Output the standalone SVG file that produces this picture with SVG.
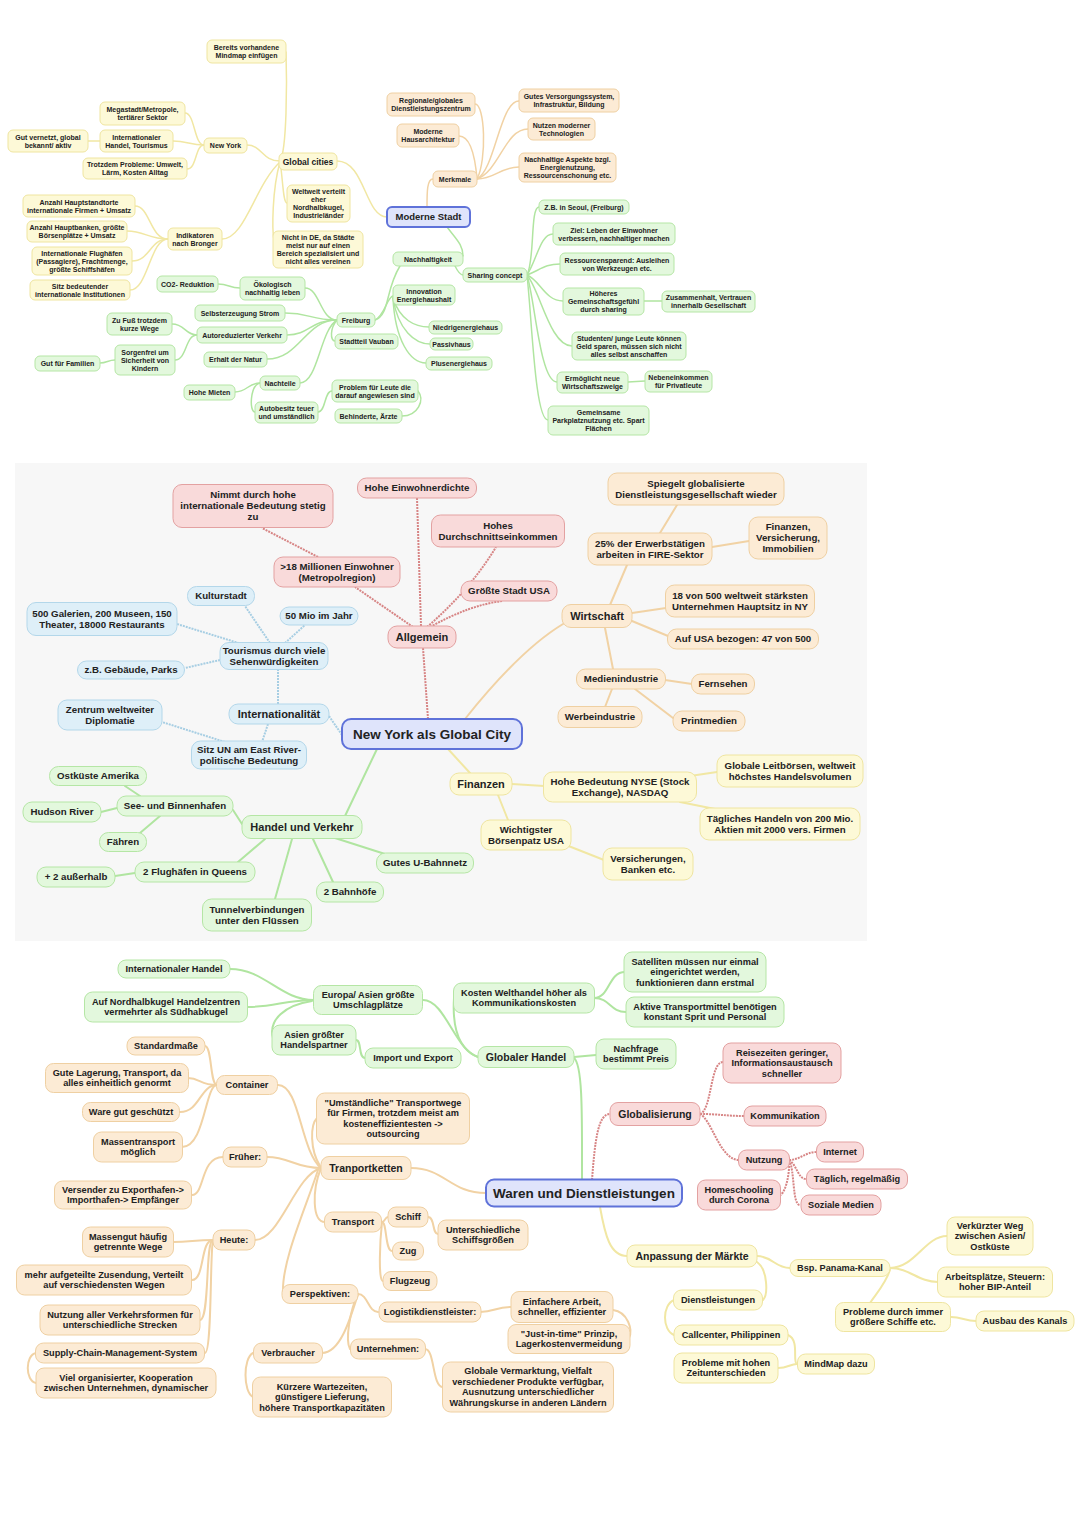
<svg xmlns="http://www.w3.org/2000/svg" width="1080" height="1527" viewBox="0 0 1080 1527">
<style>
text{font-family:"Liberation Sans",Arial,Helvetica,sans-serif;font-weight:bold;fill:#222;text-anchor:middle}
.s1 text{font-size:7px}
.s2 text{font-size:9.7px}
.s3 text{font-size:9.2px}
.s1 rect{rx:5px}
.s2 rect{rx:9px}
.s3 rect{rx:8px}
.y rect{fill:#fdf9d7;stroke:#efe5a0;stroke-width:1}
.o rect{fill:#fcebd5;stroke:#efd0a2;stroke-width:1}
.g rect{fill:#e3f8dd;stroke:#b5e6a5;stroke-width:1}
.r rect{fill:#f9dada;stroke:#e3a1a1;stroke-width:1}
.b rect{fill:#deeff8;stroke:#b3d7ea;stroke-width:1}
.c rect{fill:#dfe4fb;stroke:#5f72d9;stroke-width:2}
.k1 text{font-size:8.5px}
.k2 text{font-size:11px}
.k3 text{font-size:10.5px}
.km text{font-size:9.5px}
.kc text{font-size:13.5px}
path{fill:none;stroke-linecap:round}
.cy{stroke:#f1e7a3}
.co{stroke:#f1d2a4}
.cg{stroke:#b0e5a0}
.cr{stroke:#d78585;stroke-dasharray:2 1;stroke-linecap:butt}
.cb{stroke:#a7cee3;stroke-dasharray:2 1;stroke-linecap:butt}
.w1 path{stroke-width:1.5}
.w2 path{stroke-width:2}
</style>
<rect x="15" y="463" width="852" height="478" fill="#f7f7f7"/>

<g id="connectors">
<g class="w1">
<path class="cy" d="M337 161 C365 161 365 217 387 217"/>
<path class="cy" d="M280 161 C287 150 287 80 286 52"/>
<path class="cy" d="M280 161 C262 161 262 145 247 145"/>
<path class="cy" d="M280 161 C283 180 283 203 287 203"/>
<path class="cy" d="M280 162 C272 190 272 230 274 240"/>
<path class="cy" d="M280 162 C255 185 245 239 222 239"/>
<path class="cy" d="M204 145 C194 145 195 113 185 113"/>
<path class="cy" d="M204 145 C190 145 187 141 173 141"/>
<path class="cy" d="M204 145 C195 145 197 169 187 169"/>
<path class="cy" d="M100 141 L88 141"/>
<path class="cy" d="M168 239 C150 239 150 206 135 206"/>
<path class="cy" d="M168 239 C148 239 145 231 127 231"/>
<path class="cy" d="M168 239 C150 239 150 261 132 261"/>
<path class="cy" d="M168 239 C150 239 148 290 130 290"/>
<path class="co" d="M427 207 C427 192 427 179 433 179"/>
<path class="co" d="M477 179 C487 160 485 104 475 104"/>
<path class="co" d="M477 179 C475 155 470 136 459 136"/>
<path class="co" d="M477 179 C495 170 500 101 519 101"/>
<path class="co" d="M477 179 C500 170 505 129 528 129"/>
<path class="co" d="M477 179 C495 179 500 167 519 167"/>
<path class="cg" d="M447 227 C457 240 463 245 463 256"/>
<path class="cg" d="M455 266 C458 272 460 275 463 275"/>
<path class="cg" d="M400 266 C385 290 390 315 375 320"/>
<path class="cg" d="M375 320 C385 315 387 297 393 296"/>
<path class="cg" d="M393 298 C400 320 415 327 429 327"/>
<path class="cg" d="M393 298 C398 330 415 344 430 344"/>
<path class="cg" d="M393 298 C395 340 410 363 426 363"/>
<path class="cg" d="M337 320 C320 320 320 288 305 288"/>
<path class="cg" d="M337 320 C310 320 310 313 285 313"/>
<path class="cg" d="M337 320 C310 320 310 335 287 335"/>
<path class="cg" d="M337 320 C305 320 300 359 267 359"/>
<path class="cg" d="M337 320 C320 330 318 383 300 383"/>
<path class="cg" d="M337 320 C330 328 330 341 335 341"/>
<path class="cg" d="M240 288 C229 288 229 284 218 284"/>
<path class="cg" d="M197 335 C185 335 185 324 172 324"/>
<path class="cg" d="M197 335 C185 335 187 360 175 360"/>
<path class="cg" d="M115 360 C108 360 107 363 100 363"/>
<path class="cg" d="M260 383 C248 383 247 392 235 392"/>
<path class="cg" d="M260 383 C250 385 249 412 255 412"/>
<path class="cg" d="M318 412 C326 412 324 391 332 391"/>
<path class="cg" d="M418 391 C425 400 418 416 402 416"/>
<path class="cg" d="M527 275 C535 260 530 207 539 207"/>
<path class="cg" d="M527 275 C537 260 540 234 553 234"/>
<path class="cg" d="M527 275 C540 270 545 264 560 264"/>
<path class="cg" d="M527 275 C540 280 545 301 563 301"/>
<path class="cg" d="M527 275 C540 290 550 346 572 346"/>
<path class="cg" d="M527 275 C535 300 540 382 557 382"/>
<path class="cg" d="M527 275 C532 320 535 420 548 420"/>
<path class="cg" d="M644 301 L662 301"/>
<path class="cg" d="M628 382 L645 381"/>
</g>
<g class="w2">
<path class="cr" d="M428 719 L423 648"/>
<path class="cr" d="M421 626 L417 498"/>
<path class="cr" d="M413 627 L355 587"/>
<path class="cr" d="M318 557 L262 528"/>
<path class="cr" d="M427 627 Q470 590 496 547"/>
<path class="cr" d="M430 627 Q470 605 502 601"/>
<path class="cb" d="M342 735 L329 716"/>
<path class="cb" d="M278 704 L278 670"/>
<path class="cb" d="M270 643 L245 606"/>
<path class="cb" d="M245 645 L177 624"/>
<path class="cb" d="M285 643 L305 625"/>
<path class="cb" d="M220 660 L185 668"/>
<path class="cb" d="M268 724 L262 742"/>
<path class="cb" d="M225 742 L162 722"/>
<path class="co" d="M465 719 Q520 650 563 624"/>
<path class="co" d="M610 605 L627 565"/>
<path class="co" d="M660 533 L677 505"/>
<path class="co" d="M712 547 L749 541"/>
<path class="co" d="M632 613 L666 608"/>
<path class="co" d="M632 621 L668 636"/>
<path class="co" d="M605 628 L613 669"/>
<path class="co" d="M665 680 L692 684"/>
<path class="co" d="M612 689 L605 707"/>
<path class="co" d="M635 689 L673 718"/>
<path class="cy" d="M448 749 L470 773"/>
<path class="cy" d="M512 784 L544 786"/>
<path class="cy" d="M690 776 L717 772"/>
<path class="cy" d="M680 802 L720 810"/>
<path class="cy" d="M498 795 L508 820"/>
<path class="cy" d="M566 845 L604 860"/>
<path class="cg" d="M377 749 L345 816"/>
<path class="cg" d="M242 824 L233 810"/>
<path class="cg" d="M140 796 L125 786"/>
<path class="cg" d="M117 808 L101 812"/>
<path class="cg" d="M160 816 L140 833"/>
<path class="cg" d="M265 839 L238 862"/>
<path class="cg" d="M135 873 L115 876"/>
<path class="cg" d="M292 839 L275 899"/>
<path class="cg" d="M313 839 L333 882"/>
<path class="cg" d="M335 838 L385 854"/>

<path class="cg" d="M582 1179 C582 1120 583 1065 574 1058"/>
<path class="cg" d="M478 1057 C460 1050 452 1030 454 998"/>
<path class="cg" d="M478 1057 C455 1050 445 1000 423 1000"/>
<path class="cg" d="M574 1057 L596 1055"/>
<path class="cg" d="M594 998 C610 998 608 972 625 972"/>
<path class="cg" d="M594 998 C610 998 610 1012 626 1012"/>
<path class="cg" d="M314 1000 C280 1000 265 969 230 969"/>
<path class="cg" d="M314 1000 C285 1000 275 1007 248 1007"/>
<path class="cg" d="M312 1001 C285 1005 268 1020 273 1038"/>
<path class="cg" d="M356 1040 C362 1040 358 1058 365 1058"/>
<path class="co" d="M486 1193 C450 1193 445 1168 411 1168"/>
<path class="co" d="M321 1168 C300 1150 300 1085 278 1085"/>
<path class="co" d="M320 1166 C310 1150 310 1125 317 1118"/>
<path class="co" d="M321 1168 C295 1168 290 1157 267 1157"/>
<path class="co" d="M321 1168 C295 1175 280 1240 255 1240"/>
<path class="co" d="M321 1168 C312 1190 312 1222 325 1222"/>
<path class="co" d="M318 1170 C305 1210 282 1260 283 1292"/>
<path class="co" d="M217 1085 C210 1085 212 1046 205 1046"/>
<path class="co" d="M217 1085 C200 1085 200 1078 188 1078"/>
<path class="co" d="M217 1085 C200 1085 200 1112 180 1112"/>
<path class="co" d="M217 1085 C205 1085 205 1147 182 1147"/>
<path class="co" d="M223 1157 C200 1157 205 1195 192 1195"/>
<path class="co" d="M213 1240 C195 1240 190 1242 173 1242"/>
<path class="co" d="M213 1240 C200 1240 205 1280 192 1280"/>
<path class="co" d="M213 1240 C205 1240 210 1320 200 1320"/>
<path class="co" d="M213 1240 C210 1250 212 1353 205 1353"/>
<path class="co" d="M36 1353 C25 1355 25 1381 36 1383"/>
<path class="co" d="M382 1222 C385 1222 385 1217 388 1217"/>
<path class="co" d="M382 1222 C387 1222 385 1251 392 1251"/>
<path class="co" d="M382 1222 C380 1240 378 1281 383 1281"/>
<path class="co" d="M428 1217 C435 1217 432 1234 438 1234"/>
<path class="co" d="M358 1294 C368 1294 368 1312 378 1312"/>
<path class="co" d="M358 1294 C350 1310 345 1340 350 1349"/>
<path class="co" d="M358 1294 C350 1320 340 1353 322 1353"/>
<path class="co" d="M253 1353 C243 1358 243 1392 253 1397"/>
<path class="co" d="M425 1349 C435 1349 432 1387 443 1387"/>
<path class="co" d="M480 1312 C495 1312 495 1307 511 1307"/>
<path class="co" d="M613 1310 C628 1312 633 1330 629 1338"/>
<path class="cr" d="M592 1180 C595 1140 598 1114 610 1114"/>
<path class="cr" d="M700 1114 C712 1110 710 1062 723 1062"/>
<path class="cr" d="M700 1114 C720 1114 725 1116 744 1116"/>
<path class="cr" d="M700 1114 C712 1120 720 1160 739 1160"/>
<path class="cr" d="M789 1160 C800 1160 805 1152 817 1152"/>
<path class="cr" d="M789 1160 C797 1165 798 1179 806 1179"/>
<path class="cr" d="M789 1160 C795 1170 792 1205 800 1205"/>
<path class="cr" d="M789 1160 C790 1175 785 1196 778 1196"/>
<path class="cy" d="M600 1207 C605 1235 610 1256 627 1256"/>
<path class="cy" d="M757 1256 C772 1256 775 1268 790 1268"/>
<path class="cy" d="M757 1262 C768 1270 768 1295 763 1300"/>
<path class="cy" d="M674 1300 C662 1305 662 1330 674 1335"/>
<path class="cy" d="M788 1335 C800 1340 792 1362 797 1364"/>
<path class="cy" d="M778 1368 C788 1368 790 1364 797 1364"/>
<path class="cy" d="M890 1268 C915 1268 925 1236 947 1236"/>
<path class="cy" d="M890 1268 C910 1268 918 1282 938 1282"/>
<path class="cy" d="M890 1270 C885 1285 875 1295 870 1303"/>
<path class="cy" d="M951 1317 C962 1317 965 1321 976 1321"/>
</g>
</g>

<!-- Section 1 -->
<g id="n_bereits" class="s1 y"><rect x="207" y="40" width="79" height="23"/><text y="50"><tspan x="246.5">Bereits vorhandene</tspan><tspan x="246.5" dy="8">Mindmap einfügen</tspan></text></g>
<g id="n_megastadt" class="s1 y"><rect x="100" y="102" width="85" height="23"/><text y="112"><tspan x="142.5">Megastadt/Metropole,</tspan><tspan x="142.5" dy="8">tertiärer Sektor</tspan></text></g>
<g id="n_inthandel" class="s1 y"><rect x="100" y="130" width="73" height="22"/><text y="139.5"><tspan x="136.5">Internationaler</tspan><tspan x="136.5" dy="8">Handel, Tourismus</tspan></text></g>
<g id="n_gutvernetzt" class="s1 y"><rect x="8" y="130" width="80" height="22"/><text y="139.5"><tspan x="48">Gut vernetzt, global</tspan><tspan x="48" dy="8">bekannt/ aktiv</tspan></text></g>
<g id="n_trotzdem" class="s1 y"><rect x="83" y="158" width="104" height="21"/><text y="167"><tspan x="135">Trotzdem Probleme: Umwelt,</tspan><tspan x="135" dy="8">Lärm, Kosten Alltag</tspan></text></g>
<g id="n_newyork" class="s1 y"><rect x="204" y="138" width="43" height="15"/><text x="225.5" y="148">New York</text></g>
<g id="n_globalcities" class="s1 y k1"><rect x="279" y="153" width="58" height="17"/><text x="308" y="164.5">Global cities</text></g>
<g id="n_weltweit" class="s1 y"><rect x="287" y="185" width="63" height="37"/><text y="194"><tspan x="318.5">Weltweit verteilt</tspan><tspan x="318.5" dy="8">eher</tspan><tspan x="318.5" dy="8">Nordhalbkugel,</tspan><tspan x="318.5" dy="8">Industrieländer</tspan></text></g>
<g id="n_nichtde" class="s1 y"><rect x="273" y="231" width="90" height="37"/><text y="240"><tspan x="318">Nicht in DE, da Städte</tspan><tspan x="318" dy="8">meist nur auf einen</tspan><tspan x="318" dy="8">Bereich spezialisiert und</tspan><tspan x="318" dy="8">nicht alles vereinen</tspan></text></g>
<g id="n_indikatoren" class="s1 y"><rect x="168" y="228" width="54" height="22"/><text y="237.5"><tspan x="195">Indikatoren</tspan><tspan x="195" dy="8">nach Bronger</tspan></text></g>
<g id="n_anzahl1" class="s1 y"><rect x="23" y="195" width="112" height="22"/><text y="204.5"><tspan x="79">Anzahl Hauptstandtorte</tspan><tspan x="79" dy="8">internationale Firmen + Umsatz</tspan></text></g>
<g id="n_anzahl2" class="s1 y"><rect x="27" y="221" width="100" height="21"/><text y="230"><tspan x="77">Anzahl Hauptbanken, größte</tspan><tspan x="77" dy="8">Börsenplätze + Umsatz</tspan></text></g>
<g id="n_flughaefen" class="s1 y"><rect x="32" y="247" width="100" height="28"/><text y="255.5"><tspan x="82">Internationale Flughäfen</tspan><tspan x="82" dy="8">(Passagiere), Frachtmenge,</tspan><tspan x="82" dy="8">größte Schiffshäfen</tspan></text></g>
<g id="n_sitz" class="s1 y"><rect x="30" y="280" width="100" height="20"/><text y="288.5"><tspan x="80">Sitz bedeutender</tspan><tspan x="80" dy="8">internationale Institutionen</tspan></text></g>
<g id="n_co2" class="s1 g"><rect x="157" y="276" width="61" height="16"/><text x="187.5" y="286.5">CO2- Reduktion</text></g>
<g id="n_oekologisch" class="s1 g"><rect x="240" y="277" width="65" height="23"/><text y="287"><tspan x="272.5">Ökologisch</tspan><tspan x="272.5" dy="8">nachhaltig leben</tspan></text></g>
<g id="n_selbst" class="s1 g"><rect x="195" y="305" width="90" height="16"/><text x="240" y="315.5">Selbsterzeugung Strom</text></g>
<g id="n_zufuss" class="s1 g"><rect x="107" y="313" width="65" height="22"/><text y="322.5"><tspan x="139.5">Zu Fuß trotzdem</tspan><tspan x="139.5" dy="8">kurze Wege</tspan></text></g>
<g id="n_auto" class="s1 g"><rect x="197" y="327" width="90" height="16"/><text x="242" y="337.5">Autoreduzierter Verkehr</text></g>
<g id="n_freiburg" class="s1 g"><rect x="337" y="313" width="38" height="14"/><text x="356" y="322.5">Freiburg</text></g>
<g id="n_vauban" class="s1 g"><rect x="335" y="334" width="63" height="15"/><text x="366.5" y="344">Stadtteil Vauban</text></g>
<g id="n_sorgenfrei" class="s1 g"><rect x="115" y="345" width="60" height="30"/><text y="354.5"><tspan x="145">Sorgenfrei um</tspan><tspan x="145" dy="8">Sicherheit von</tspan><tspan x="145" dy="8">Kindern</tspan></text></g>
<g id="n_familien" class="s1 g"><rect x="35" y="356" width="65" height="15"/><text x="67.5" y="366">Gut für Familien</text></g>
<g id="n_natur" class="s1 g"><rect x="204" y="352" width="63" height="15"/><text x="235.5" y="362">Erhalt der Natur</text></g>
<g id="n_nachteile" class="s1 g"><rect x="260" y="376" width="40" height="14"/><text x="280" y="385.5">Nachteile</text></g>
<g id="n_mieten" class="s1 g"><rect x="184" y="385" width="51" height="15"/><text x="209.5" y="395">Hohe Mieten</text></g>
<g id="n_autobesitz" class="s1 g"><rect x="255" y="402" width="63" height="21"/><text y="411"><tspan x="286.5">Autobesitz teuer</tspan><tspan x="286.5" dy="8">und umständlich</tspan></text></g>
<g id="n_problem" class="s1 g"><rect x="332" y="380" width="86" height="22"/><text y="389.5"><tspan x="375">Problem für Leute die</tspan><tspan x="375" dy="8">darauf angewiesen sind</tspan></text></g>
<g id="n_behinderte" class="s1 g"><rect x="335" y="409" width="67" height="14"/><text x="368.5" y="418.5">Behinderte, Ärzte</text></g>
<g id="n_innovation" class="s1 g"><rect x="393" y="285" width="62" height="20"/><text y="293.5"><tspan x="424">Innovation</tspan><tspan x="424" dy="8">Energiehaushalt</tspan></text></g>
<g id="n_niedrig" class="s1 g"><rect x="429" y="321" width="73" height="13"/><text x="465.5" y="330">Niedrigenergiehaus</text></g>
<g id="n_passiv" class="s1 g"><rect x="430" y="338" width="43" height="12"/><text x="451.5" y="346.5">Passivhaus</text></g>
<g id="n_plus" class="s1 g"><rect x="426" y="357" width="66" height="13"/><text x="459" y="366">Plusenergiehaus</text></g>
<g id="n_nachhaltigkeit" class="s1 g"><rect x="393" y="252" width="70" height="14"/><text x="428" y="261.5">Nachhaltigkeit</text></g>
<g id="n_sharing" class="s1 g"><rect x="463" y="268" width="64" height="14"/><text x="495" y="277.5">Sharing concept</text></g>
<g id="n_seoul" class="s1 g"><rect x="539" y="200" width="90" height="14"/><text x="584" y="209.5">Z.B. in Seoul, (Freiburg)</text></g>
<g id="n_ziel" class="s1 g"><rect x="553" y="223" width="122" height="22"/><text y="232.5"><tspan x="614">Ziel: Leben der Einwohner</tspan><tspan x="614" dy="8">verbessern, nachhaltiger machen</tspan></text></g>
<g id="n_ressourcen" class="s1 g"><rect x="560" y="253" width="114" height="22"/><text y="262.5"><tspan x="617">Ressourcensparend: Ausleihen</tspan><tspan x="617" dy="8">von Werkzeugen etc.</tspan></text></g>
<g id="n_hoeheres" class="s1 g"><rect x="563" y="288" width="81" height="27"/><text y="296"><tspan x="603.5">Höheres</tspan><tspan x="603.5" dy="8">Gemeinschaftsgefühl</tspan><tspan x="603.5" dy="8">durch sharing</tspan></text></g>
<g id="n_zusammen" class="s1 g"><rect x="662" y="291" width="93" height="21"/><text y="300"><tspan x="708.5">Zusammenhalt, Vertrauen</tspan><tspan x="708.5" dy="8">innerhalb Gesellschaft</tspan></text></g>
<g id="n_studenten" class="s1 g"><rect x="572" y="332" width="114" height="28"/><text y="340.5"><tspan x="629">Studenten/ junge Leute können</tspan><tspan x="629" dy="8">Geld sparen, müssen sich nicht</tspan><tspan x="629" dy="8">alles selbst anschaffen</tspan></text></g>
<g id="n_ermoeglicht" class="s1 g"><rect x="557" y="372" width="71" height="21"/><text y="381"><tspan x="592.5">Ermöglicht neue</tspan><tspan x="592.5" dy="8">Wirtschaftszweige</tspan></text></g>
<g id="n_neben" class="s1 g"><rect x="645" y="371" width="67" height="21"/><text y="380"><tspan x="678.5">Nebeneinkommen</tspan><tspan x="678.5" dy="8">für Privatleute</tspan></text></g>
<g id="n_gemeinsam" class="s1 g"><rect x="548" y="406" width="101" height="29"/><text y="415"><tspan x="598.5">Gemeinsame</tspan><tspan x="598.5" dy="8">Parkplatznutzung etc. Spart</tspan><tspan x="598.5" dy="8">Flächen</tspan></text></g>
<g id="n_regionale" class="s1 o"><rect x="387" y="93" width="88" height="23"/><text y="103"><tspan x="431">Regionale/globales</tspan><tspan x="431" dy="8">Dienstleistungszentrum</tspan></text></g>
<g id="n_hausarch" class="s1 o"><rect x="397" y="124" width="62" height="23"/><text y="134"><tspan x="428">Moderne</tspan><tspan x="428" dy="8">Hausarchitektur</tspan></text></g>
<g id="n_gutes" class="s1 o"><rect x="519" y="89" width="100" height="23"/><text y="99"><tspan x="569">Gutes Versorgungssystem,</tspan><tspan x="569" dy="8">Infrastruktur, Bildung</tspan></text></g>
<g id="n_nutzen" class="s1 o"><rect x="528" y="118" width="67" height="22"/><text y="127.5"><tspan x="561.5">Nutzen moderner</tspan><tspan x="561.5" dy="8">Technologien</tspan></text></g>
<g id="n_nachhaltigasp" class="s1 o"><rect x="519" y="153" width="97" height="29"/><text y="162"><tspan x="567.5">Nachhaltige Aspekte bzgl.</tspan><tspan x="567.5" dy="8">Energienutzung,</tspan><tspan x="567.5" dy="8">Ressourcenschonung etc.</tspan></text></g>
<g id="n_merkmale" class="s1 o"><rect x="433" y="171" width="44" height="16"/><text x="455" y="181.5">Merkmale</text></g>
<g id="n_modernestadt" class="s1 c km"><rect x="387" y="207" width="83" height="20"/><text x="428.5" y="220.3">Moderne Stadt</text></g>

<!-- Section 2 -->
<g id="n_hohe_ew" class="s2 r"><rect x="357.5" y="478" width="119" height="20"/><text x="417" y="491.4">Hohe Einwohnerdichte</text></g>
<g id="n_nimmt" class="s2 r"><rect x="173" y="484.5" width="160" height="43"/><text y="498.4"><tspan x="253">Nimmt durch hohe</tspan><tspan x="253" dy="11">internationale Bedeutung stetig</tspan><tspan x="253" dy="11">zu</tspan></text></g>
<g id="n_hohes" class="s2 r"><rect x="431.5" y="515" width="133" height="32"/><text y="528.9"><tspan x="498">Hohes</tspan><tspan x="498" dy="11">Durchschnittseinkommen</tspan></text></g>
<g id="n_18mio" class="s2 r"><rect x="274" y="557" width="126" height="30"/><text y="569.9"><tspan x="337">&gt;18 Millionen Einwohner</tspan><tspan x="337" dy="11">(Metropolregion)</tspan></text></g>
<g id="n_groesste" class="s2 r"><rect x="461" y="581" width="96" height="20"/><text x="509" y="594.4">Größte Stadt USA</text></g>
<g id="n_allgemein" class="s2 r k2"><rect x="388" y="626" width="68" height="22"/><text x="422" y="640.85">Allgemein</text></g>
<g id="n_kultur" class="s2 b"><rect x="187.5" y="586.5" width="67" height="19"/><text x="221" y="599.4">Kulturstadt</text></g>
<g id="n_500" class="s2 b"><rect x="27" y="602.5" width="150" height="33"/><text y="616.9"><tspan x="102">500 Galerien, 200 Museen, 150</tspan><tspan x="102" dy="11">Theater, 18000 Restaurants</tspan></text></g>
<g id="n_50mio" class="s2 b"><rect x="280" y="607" width="78" height="18"/><text x="319" y="619.4">50 Mio im Jahr</text></g>
<g id="n_tourismus" class="s2 b"><rect x="220" y="642.5" width="108" height="27"/><text y="653.9"><tspan x="274">Tourismus durch viele</tspan><tspan x="274" dy="11">Sehenwürdigkeiten</tspan></text></g>
<g id="n_zb" class="s2 b"><rect x="77.5" y="661" width="107" height="18"/><text x="131" y="673.4">z.B. Gebäude, Parks</text></g>
<g id="n_internationalitaet" class="s2 b k2"><rect x="229" y="704" width="100" height="20"/><text x="279" y="717.85">Internationalität</text></g>
<g id="n_zentrum" class="s2 b"><rect x="58" y="700" width="104" height="30"/><text y="712.9"><tspan x="110">Zentrum weltweiter</tspan><tspan x="110" dy="11">Diplomatie</tspan></text></g>
<g id="n_sitzun" class="s2 b"><rect x="191.5" y="741" width="115" height="28"/><text y="752.9"><tspan x="249">Sitz UN am East River-</tspan><tspan x="249" dy="11">politische Bedeutung</tspan></text></g>
<g id="n_nyc" class="s2 c kc"><rect x="342" y="719" width="180" height="30"/><text x="432" y="738.7">New York als Global City</text></g>
<g id="n_spiegelt" class="s2 o"><rect x="608" y="473" width="176" height="32"/><text y="486.9"><tspan x="696">Spiegelt globalisierte</tspan><tspan x="696" dy="11">Dienstleistungsgesellschaft wieder</tspan></text></g>
<g id="n_25" class="s2 o"><rect x="588" y="533" width="124" height="32"/><text y="546.9"><tspan x="650">25% der Erwerbstätigen</tspan><tspan x="650" dy="11">arbeiten in FIRE-Sektor</tspan></text></g>
<g id="n_finvers" class="s2 o"><rect x="749" y="517" width="78" height="42"/><text y="530.4"><tspan x="788">Finanzen,</tspan><tspan x="788" dy="11">Versicherung,</tspan><tspan x="788" dy="11">Immobilien</tspan></text></g>
<g id="n_wirtschaft" class="s2 o k2"><rect x="562" y="604.5" width="70" height="23"/><text x="597" y="619.85">Wirtschaft</text></g>
<g id="n_18von" class="s2 o"><rect x="665.5" y="585" width="149" height="32"/><text y="598.9"><tspan x="740">18 von 500 weltweit stärksten</tspan><tspan x="740" dy="11">Unternehmen Hauptsitz in NY</tspan></text></g>
<g id="n_aufusa" class="s2 o"><rect x="667.5" y="629" width="151" height="20"/><text x="743" y="642.4">Auf USA bezogen: 47 von 500</text></g>
<g id="n_medien" class="s2 o"><rect x="576.5" y="669" width="89" height="20"/><text x="621" y="682.4">Medienindustrie</text></g>
<g id="n_fernsehen" class="s2 o"><rect x="691.5" y="674" width="63" height="20"/><text x="723" y="687.4">Fernsehen</text></g>
<g id="n_werbe" class="s2 o"><rect x="558" y="706.5" width="84" height="21"/><text x="600" y="720.4">Werbeindustrie</text></g>
<g id="n_print" class="s2 o"><rect x="673" y="711" width="72" height="20"/><text x="709" y="724.4">Printmedien</text></g>
<g id="n_finanzen" class="s2 y k2"><rect x="450" y="773" width="62" height="22"/><text x="481" y="787.85">Finanzen</text></g>
<g id="n_nyse" class="s2 y"><rect x="543.5" y="772" width="153" height="30"/><text y="784.9"><tspan x="620">Hohe Bedeutung NYSE (Stock</tspan><tspan x="620" dy="11">Exchange), NASDAQ</tspan></text></g>
<g id="n_leitboersen" class="s2 y"><rect x="717" y="755" width="146" height="32"/><text y="768.9"><tspan x="790">Globale Leitbörsen, weltweit</tspan><tspan x="790" dy="11">höchstes Handelsvolumen</tspan></text></g>
<g id="n_taeglich" class="s2 y"><rect x="700" y="808" width="160" height="32"/><text y="821.9"><tspan x="780">Tägliches Handeln von 200 Mio.</tspan><tspan x="780" dy="11">Aktien mit 2000 vers. Firmen</tspan></text></g>
<g id="n_wichtigster" class="s2 y"><rect x="481" y="820" width="90" height="30"/><text y="832.9"><tspan x="526">Wichtigster</tspan><tspan x="526" dy="11">Börsenpatz USA</tspan></text></g>
<g id="n_versicherungen" class="s2 y"><rect x="603" y="848" width="90" height="32"/><text y="861.9"><tspan x="648">Versicherungen,</tspan><tspan x="648" dy="11">Banken etc.</tspan></text></g>
<g id="n_ostkueste" class="s2 g"><rect x="49.5" y="766.5" width="97" height="19"/><text x="98" y="779.4">Ostküste Amerika</text></g>
<g id="n_see" class="s2 g"><rect x="117" y="796" width="116" height="20"/><text x="175" y="809.4">See- und Binnenhafen</text></g>
<g id="n_hudson" class="s2 g"><rect x="23" y="802" width="78" height="20"/><text x="62" y="815.4">Hudson River</text></g>
<g id="n_faehren" class="s2 g"><rect x="99.5" y="832.5" width="47" height="19"/><text x="123" y="845.4">Fähren</text></g>
<g id="n_handel" class="s2 g k2"><rect x="242" y="815.5" width="120" height="23"/><text x="302" y="830.85">Handel und Verkehr</text></g>
<g id="n_ubahn" class="s2 g"><rect x="376.5" y="853" width="97" height="20"/><text x="425" y="866.4">Gutes U-Bahnnetz</text></g>
<g id="n_flughaefen2" class="s2 g"><rect x="135" y="862" width="120" height="20"/><text x="195" y="875.4">2 Flughäfen in Queens</text></g>
<g id="n_ausserhalb" class="s2 g"><rect x="37" y="867" width="78" height="20"/><text x="76" y="880.4">+ 2 außerhalb</text></g>
<g id="n_bahnhoefe" class="s2 g"><rect x="316.5" y="882" width="67" height="20"/><text x="350" y="895.4">2 Bahnhöfe</text></g>
<g id="n_tunnel" class="s2 g"><rect x="202.5" y="899" width="109" height="32"/><text y="912.9"><tspan x="257">Tunnelverbindungen</tspan><tspan x="257" dy="11">unter den Flüssen</tspan></text></g>

<!-- Section 3 -->
<g id="n_inthandel3" class="s3 g"><rect x="118" y="960" width="112" height="18"/><text x="174" y="972.2">Internationaler Handel</text></g>
<g id="n_nordhalb" class="s3 g"><rect x="84.5" y="992" width="163" height="30"/><text y="1004.95"><tspan x="166">Auf Nordhalbkugel Handelzentren</tspan><tspan x="166" dy="10.5">vermehrter als Südhabkugel</tspan></text></g>
<g id="n_europa" class="s3 g"><rect x="313.5" y="985.5" width="109" height="29"/><text y="997.95"><tspan x="368">Europa/ Asien größte</tspan><tspan x="368" dy="10.5">Umschlagplätze</tspan></text></g>
<g id="n_asien" class="s3 g"><rect x="272" y="1025" width="84" height="30"/><text y="1037.95"><tspan x="314">Asien größter</tspan><tspan x="314" dy="10.5">Handelspartner</tspan></text></g>
<g id="n_importexport" class="s3 g"><rect x="365" y="1048" width="96" height="20"/><text x="413" y="1061.2">Import und Export</text></g>
<g id="n_kosten" class="s3 g"><rect x="453.5" y="983" width="141" height="30"/><text y="995.95"><tspan x="524">Kosten Welthandel höher als</tspan><tspan x="524" dy="10.5">Kommunikationskosten</tspan></text></g>
<g id="n_satelliten" class="s3 g"><rect x="624" y="952" width="142" height="40"/><text y="964.7"><tspan x="695">Satelliten müssen nur einmal</tspan><tspan x="695" dy="10.5">eingerichtet werden,</tspan><tspan x="695" dy="10.5">funktionieren dann erstmal</tspan></text></g>
<g id="n_aktive" class="s3 g"><rect x="626" y="997" width="158" height="30"/><text y="1009.95"><tspan x="705">Aktive Transportmittel benötigen</tspan><tspan x="705" dy="10.5">konstant Sprit und Personal</tspan></text></g>
<g id="n_globhandel" class="s3 g k3"><rect x="478" y="1046.5" width="96" height="21"/><text x="526" y="1060.7">Globaler Handel</text></g>
<g id="n_nachfrage" class="s3 g"><rect x="596" y="1039" width="80" height="30"/><text y="1051.95"><tspan x="636">Nachfrage</tspan><tspan x="636" dy="10.5">bestimmt Preis</tspan></text></g>
<g id="n_reisezeiten" class="s3 r"><rect x="723" y="1043" width="118" height="40"/><text y="1055.7"><tspan x="782">Reisezeiten geringer,</tspan><tspan x="782" dy="10.5">Informationsaustausch</tspan><tspan x="782" dy="10.5">schneller</tspan></text></g>
<g id="n_globalisierung" class="s3 r k3"><rect x="610" y="1102.5" width="90" height="23"/><text x="655" y="1117.7">Globalisierung</text></g>
<g id="n_kommunikation" class="s3 r"><rect x="744" y="1106" width="82" height="20"/><text x="785" y="1119.2">Kommunikation</text></g>
<g id="n_nutzung" class="s3 r"><rect x="738.5" y="1150" width="51" height="20"/><text x="764" y="1163.2">Nutzung</text></g>
<g id="n_internet" class="s3 r"><rect x="816.5" y="1142" width="47" height="20"/><text x="840" y="1155.2">Internet</text></g>
<g id="n_taeglich3" class="s3 r"><rect x="806.5" y="1169" width="101" height="20"/><text x="857" y="1182.2">Täglich, regelmäßig</text></g>
<g id="n_homeschool" class="s3 r"><rect x="697.5" y="1180" width="83" height="30"/><text y="1192.95"><tspan x="739">Homeschooling</tspan><tspan x="739" dy="10.5">durch Corona</tspan></text></g>
<g id="n_soziale" class="s3 r"><rect x="801" y="1195" width="80" height="20"/><text x="841" y="1208.2">Soziale Medien</text></g>
<g id="n_waren" class="s3 c kc"><rect x="486" y="1179.5" width="196" height="27"/><text x="584" y="1197.7">Waren und Dienstleistungen</text></g>
<g id="n_standard" class="s3 o"><rect x="127" y="1037" width="78" height="18"/><text x="166" y="1049.2">Standardmaße</text></g>
<g id="n_lagerung" class="s3 o"><rect x="45.5" y="1063.5" width="143" height="29"/><text y="1075.95"><tspan x="117">Gute Lagerung, Transport, da</tspan><tspan x="117" dy="10.5">alles einheitlich genormt</tspan></text></g>
<g id="n_container" class="s3 o"><rect x="216.5" y="1075.5" width="61" height="19"/><text x="247" y="1088.2">Container</text></g>
<g id="n_ware" class="s3 o"><rect x="82.5" y="1102.5" width="97" height="19"/><text x="131" y="1115.2">Ware gut geschützt</text></g>
<g id="n_massen" class="s3 o"><rect x="93.5" y="1132" width="89" height="30"/><text y="1144.95"><tspan x="138">Massentransport</tspan><tspan x="138" dy="10.5">möglich</tspan></text></g>
<g id="n_umst" class="s3 o"><rect x="316.5" y="1093" width="153" height="51"/><text y="1105.95"><tspan x="393">"Umständliche" Transportwege</tspan><tspan x="393" dy="10.5">für Firmen, trotzdem meist am</tspan><tspan x="393" dy="10.5">kosteneffizientesten -&gt;</tspan><tspan x="393" dy="10.5">outsourcing</tspan></text></g>
<g id="n_frueher" class="s3 o"><rect x="223" y="1147" width="44" height="20"/><text x="245" y="1160.2">Früher:</text></g>
<g id="n_tranport" class="s3 o k3"><rect x="321" y="1156.5" width="90" height="23"/><text x="366" y="1171.7">Tranportketten</text></g>
<g id="n_versender" class="s3 o"><rect x="54.5" y="1181" width="137" height="28"/><text y="1192.95"><tspan x="123">Versender zu Exporthafen-&gt;</tspan><tspan x="123" dy="10.5">Importhafen-&gt; Empfänger</tspan></text></g>
<g id="n_heute" class="s3 o"><rect x="213" y="1230" width="42" height="20"/><text x="234" y="1243.2">Heute:</text></g>
<g id="n_massengut" class="s3 o"><rect x="82.5" y="1227" width="91" height="30"/><text y="1239.95"><tspan x="128">Massengut häufig</tspan><tspan x="128" dy="10.5">getrennte Wege</tspan></text></g>
<g id="n_mehr" class="s3 o"><rect x="16.5" y="1265" width="175" height="30"/><text y="1277.95"><tspan x="104">mehr aufgeteilte Zusendung, Verteilt</tspan><tspan x="104" dy="10.5">auf verschiedensten Wegen</tspan></text></g>
<g id="n_nutzungaller" class="s3 o"><rect x="40" y="1305" width="160" height="30"/><text y="1317.95"><tspan x="120">Nutzung aller Verkehrsformen für</tspan><tspan x="120" dy="10.5">unterschiedliche Strecken</tspan></text></g>
<g id="n_supply" class="s3 o"><rect x="35.5" y="1343" width="169" height="20"/><text x="120" y="1356.2">Supply-Chain-Management-System</text></g>
<g id="n_viel" class="s3 o"><rect x="36" y="1368" width="180" height="30"/><text y="1380.95"><tspan x="126">Viel organisierter, Kooperation</tspan><tspan x="126" dy="10.5">zwischen Unternehmen, dynamischer</tspan></text></g>
<g id="n_transport" class="s3 o"><rect x="324.5" y="1212" width="57" height="20"/><text x="353" y="1225.2">Transport</text></g>
<g id="n_schiff" class="s3 o"><rect x="388" y="1207" width="40" height="20"/><text x="408" y="1220.2">Schiff</text></g>
<g id="n_unterschiedliche" class="s3 o"><rect x="438" y="1220" width="90" height="30"/><text y="1232.95"><tspan x="483">Unterschiedliche</tspan><tspan x="483" dy="10.5">Schiffsgrößen</tspan></text></g>
<g id="n_zug" class="s3 o"><rect x="392.5" y="1242" width="31" height="18"/><text x="408" y="1254.2">Zug</text></g>
<g id="n_flugzeug" class="s3 o"><rect x="383" y="1271.5" width="54" height="19"/><text x="410" y="1284.2">Flugzeug</text></g>
<g id="n_perspektiven" class="s3 o"><rect x="282" y="1284.5" width="76" height="19"/><text x="320" y="1297.2">Perspektiven:</text></g>
<g id="n_logistik" class="s3 o"><rect x="379" y="1302" width="102" height="20"/><text x="430" y="1315.2">Logistikdienstleister:</text></g>
<g id="n_einfachere" class="s3 o"><rect x="511" y="1291.5" width="102" height="31"/><text y="1304.95"><tspan x="562">Einfachere Arbeit,</tspan><tspan x="562" dy="10.5">schneller, effizienter</tspan></text></g>
<g id="n_jit" class="s3 o"><rect x="508" y="1324.5" width="122" height="29"/><text y="1336.95"><tspan x="569">"Just-in-time" Prinzip,</tspan><tspan x="569" dy="10.5">Lagerkostenvermeidung</tspan></text></g>
<g id="n_verbraucher" class="s3 o"><rect x="253.5" y="1343" width="69" height="20"/><text x="288" y="1356.2">Verbraucher</text></g>
<g id="n_unternehmen" class="s3 o"><rect x="350.5" y="1339" width="75" height="20"/><text x="388" y="1352.2">Unternehmen:</text></g>
<g id="n_kuerzere" class="s3 o"><rect x="252.5" y="1377" width="139" height="40"/><text y="1389.7"><tspan x="322">Kürzere Wartezeiten,</tspan><tspan x="322" dy="10.5">günstigere Lieferung,</tspan><tspan x="322" dy="10.5">höhere Transportkapazitäten</tspan></text></g>
<g id="n_vermarktung" class="s3 o"><rect x="442.5" y="1362" width="171" height="50"/><text y="1374.45"><tspan x="528">Globale Vermarktung, Vielfalt</tspan><tspan x="528" dy="10.5">verschiedener Produkte verfügbar,</tspan><tspan x="528" dy="10.5">Ausnutzung unterschiedlicher</tspan><tspan x="528" dy="10.5">Währungskurse in anderen Ländern</tspan></text></g>
<g id="n_anpassung" class="s3 y k3"><rect x="627" y="1245" width="130" height="22"/><text x="692" y="1259.7">Anpassung der Märkte</text></g>
<g id="n_panama" class="s3 y"><rect x="790" y="1259.5" width="100" height="17"/><text x="840" y="1271.2">Bsp. Panama-Kanal</text></g>
<g id="n_verkuerzter" class="s3 y"><rect x="947" y="1217" width="86" height="38"/><text y="1228.7"><tspan x="990">Verkürzter Weg</tspan><tspan x="990" dy="10.5">zwischen Asien/</tspan><tspan x="990" dy="10.5">Ostküste</tspan></text></g>
<g id="n_arbeitsplaetze" class="s3 y"><rect x="937.5" y="1267" width="115" height="30"/><text y="1279.95"><tspan x="995">Arbeitsplätze, Steuern:</tspan><tspan x="995" dy="10.5">hoher BIP-Anteil</tspan></text></g>
<g id="n_problemeimmer" class="s3 y"><rect x="835.5" y="1302.5" width="115" height="29"/><text y="1314.95"><tspan x="893">Probleme durch immer</tspan><tspan x="893" dy="10.5">größere Schiffe etc.</tspan></text></g>
<g id="n_ausbau" class="s3 y"><rect x="976" y="1311" width="98" height="20"/><text x="1025" y="1324.2">Ausbau des Kanals</text></g>
<g id="n_dienst" class="s3 y"><rect x="673.5" y="1290" width="89" height="20"/><text x="718" y="1303.2">Dienstleistungen</text></g>
<g id="n_callcenter" class="s3 y"><rect x="674" y="1325" width="114" height="20"/><text x="731" y="1338.2">Callcenter, Philippinen</text></g>
<g id="n_zeitunterschiede" class="s3 y"><rect x="674" y="1353" width="104" height="30"/><text y="1365.95"><tspan x="726">Probleme mit hohen</tspan><tspan x="726" dy="10.5">Zeitunterschieden</tspan></text></g>
<g id="n_mindmap" class="s3 y"><rect x="797.5" y="1354" width="77" height="20"/><text x="836" y="1367.2">MindMap dazu</text></g>
</svg>
